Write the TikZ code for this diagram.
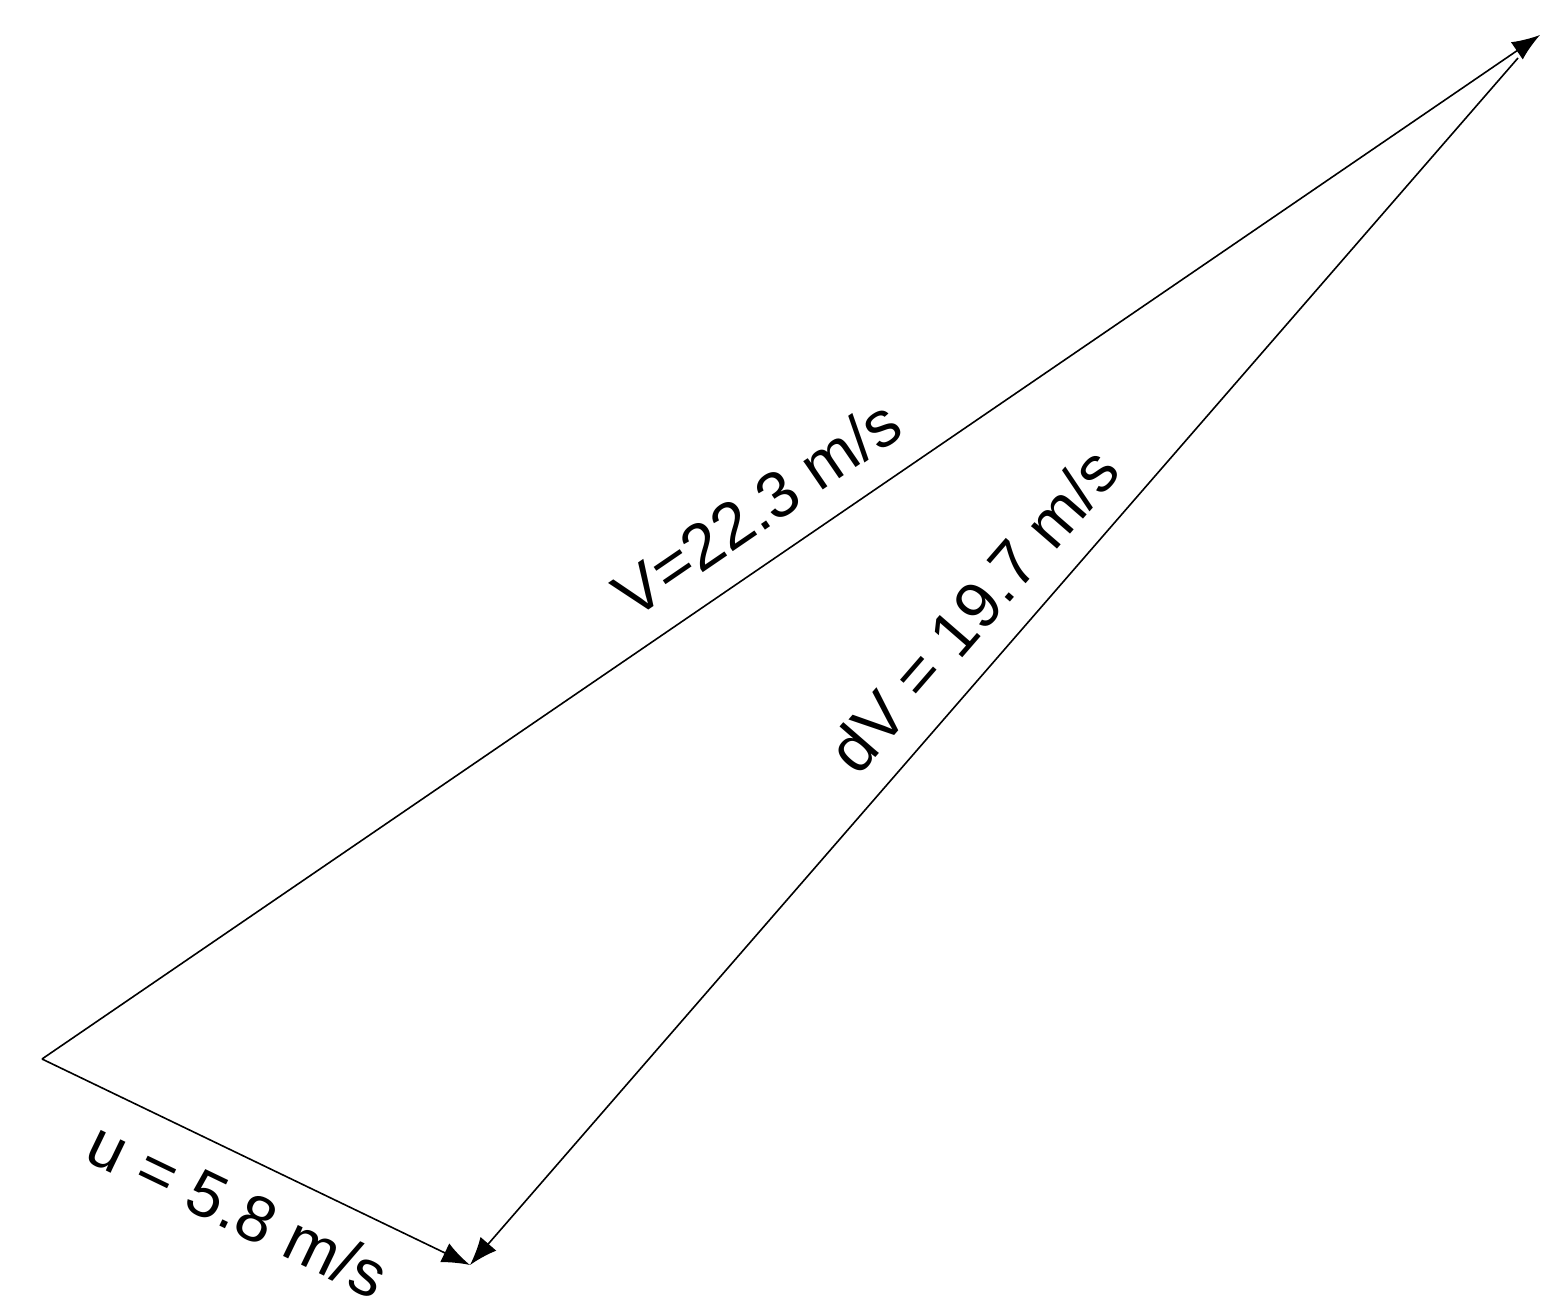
\documentclass[tikz,border=0pt]{standalone}
\usepackage{fontspec}
\setmainfont{Liberation Sans}
\usetikzlibrary{arrows.meta}
\begin{document}
\begin{tikzpicture}[x=0.5pt,y=0.5pt,
  vec/.style={line width=0.8pt, -{Latex[length=14pt,width=10.5pt]}},
  lbl/.style={font=\fontsize{32.5}{38}\selectfont, anchor=base, inner sep=0pt}]
\useasboundingbox (0,0) rectangle (1558,-1315);
\coordinate (A) at (42,-1059);
\coordinate (B) at (470,-1265);
\coordinate (C) at (1540,-35);
\coordinate (D) at (1518,-58);
\draw[vec] (A) -- (C);
\draw[vec] (A) -- (B);
\draw[vec] (D) -- (B);
\node[lbl, rotate=34.36] (lV) at (770,-527) {V=22.3 m/s};
\node[lbl, rotate=49.04] (ldV) at (991,-625) {dV = 19.7 m/s};
\node[lbl, rotate=-25.7] (lu) at (228,-1230) {u = 5.8 m/s};
\end{tikzpicture}
\end{document}
